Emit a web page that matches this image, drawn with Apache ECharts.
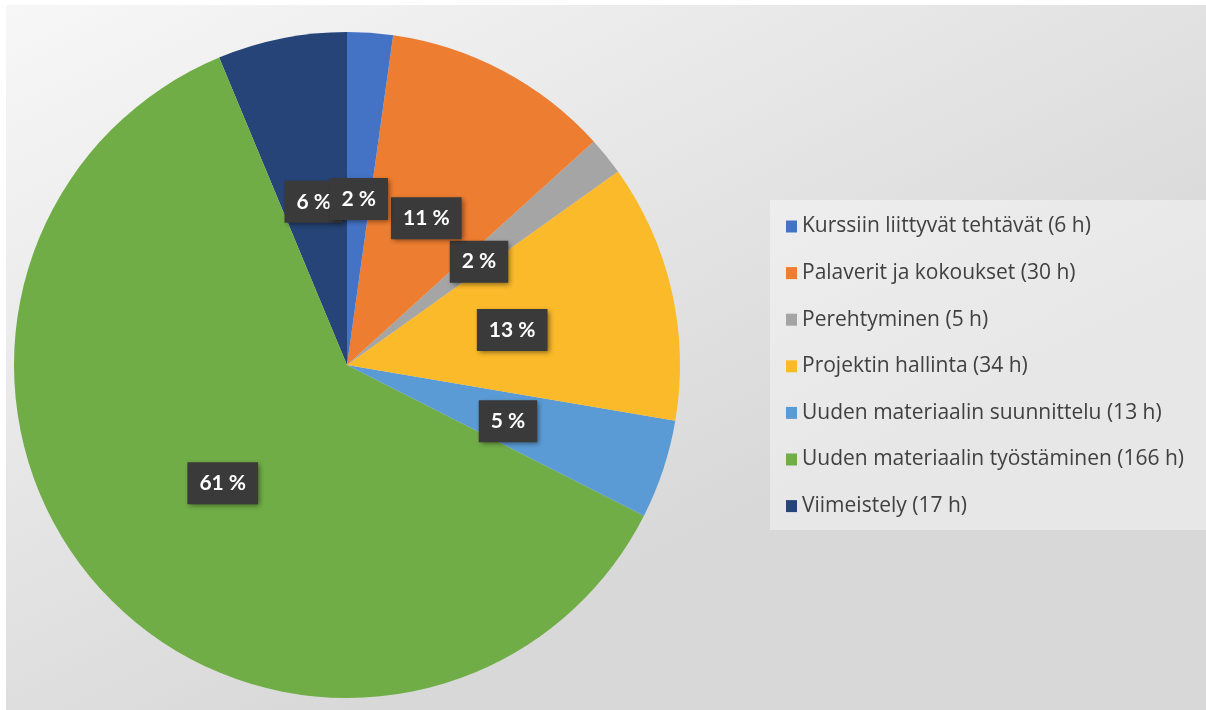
<!DOCTYPE html>
<html>
<head>
<meta charset="utf-8">
<script src="https://cdn.jsdelivr.net/npm/echarts@6/dist/echarts.min.js"></script>
<style>
  html, body { margin: 0; padding: 0; background: #ffffff; }
  #pieChart { position: absolute; left: 6px; top: 5px; width: 1200px; height: 705px; }
</style>
</head>
<body>
<div id="pieChart"></div>
<script>
  // tehtävät ja tunnit
  const categories = [
    'Kurssiin liittyvät tehtävät (6 h)',
    'Palaverit ja kokoukset (30 h)',
    'Perehtyminen (5 h)',
    'Projektin hallinta (34 h)',
    'Uuden materiaalin suunnittelu (13 h)',
    'Uuden materiaalin työstäminen (166 h)',
    'Viimeistely (17 h)'
  ]
  const hours = [6, 30, 5, 34, 13, 166, 17]
  const colors = ['#4472C4', '#ED7D31', '#A5A5A5', '#FBBA2A', '#5B9BD5', '#70AD47', '#264478']

  const total = hours.reduce((a, b) => a + b, 0)

  // piirretään vastapäivään käänteisessä järjestyksessä
  const pieData = categories.map((name, i) => ({
    name: name,
    value: hours[i],
    itemStyle: { color: colors[i] }
  })).reverse()

  const myChart = echarts.init(document.getElementById('pieChart'))

  const option = {
    backgroundColor: {
      type: 'linear', x: 0, y: 0, x2: 0.3, y2: 1,
      colorStops: [
        { offset: 0, color: '#f7f7f7' },
        { offset: 1, color: '#d8d8d8' }
      ]
    },
    // legendin taustalaatikko
    graphic: [
      {
        type: 'rect',
        left: 764,
        top: 195,
        shape: { width: 436, height: 330 },
        style: { fill: 'rgba(255,255,255,0.4)' },
        z: -1,
        silent: true
      }
    ],
    legend: {
      orient: 'vertical',
      left: 780,
      top: 211,
      padding: 0,
      itemWidth: 11,
      itemHeight: 12,
      itemGap: 25.6,
      icon: 'rect',
      textStyle: {
        fontFamily: 'Open Sans',
        fontSize: 21,
        lineHeight: 20,
        color: '#404040'
      },
      data: categories
    },
    series: [
      {
        type: 'pie',
        center: [341, 360],
        radius: 333,
        startAngle: 90,
        clockwise: false,
        avoidLabelOverlap: false,
        silent: true,
        itemStyle: { borderWidth: 0 },
        labelLayout: { hideOverlap: false },
        label: {
          position: 'inside',
          offset: [0, 3],
          formatter: function (p) {
            return Math.round(p.value / total * 100) + ' %'
          },
          fontFamily: 'Lato',
          fontWeight: 'bold',
          fontSize: 21,
          color: '#ffffff',
          backgroundColor: '#3a3a3a',
          padding: [11, 12, 10, 12],
          shadowColor: 'rgba(0,0,0,0.45)',
          shadowBlur: 5,
          shadowOffsetX: 2,
          shadowOffsetY: 2
        },
        labelLine: { show: false },
        data: pieData
      }
    ]
  }

  myChart.setOption(option)
</script>
</body>
</html>
